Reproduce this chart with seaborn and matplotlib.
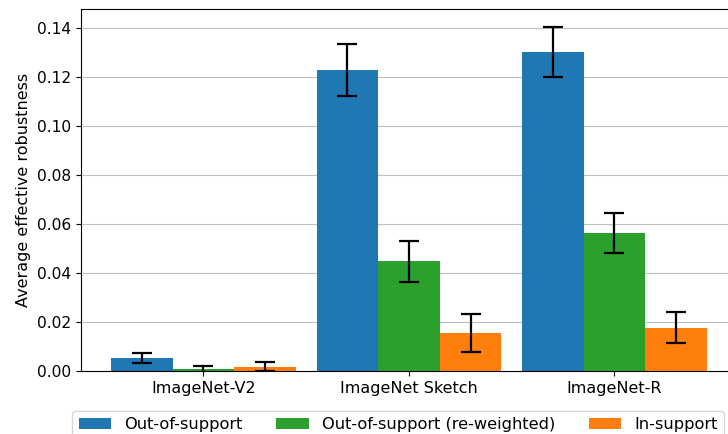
import numpy as np
import pandas as pd
import matplotlib
matplotlib.use('Agg')
import matplotlib.pyplot as plt
import seaborn as sns

# data
datasets = ['ImageNet-V2', 'ImageNet Sketch', 'ImageNet-R']
groups = ['Out-of-support', 'Out-of-support (re-weighted)', 'In-support']
out_support = [0.0053, 0.1229, 0.1303]
out_support_rw = [0.0009, 0.0447, 0.0565]
in_support = [0.0017, 0.0156, 0.0177]
# error bar half-widths
out_support_err = [0.0019, 0.0107, 0.0102]
out_support_rw_err = [0.0013, 0.0083, 0.0082]
in_support_err = [0.0018, 0.0077, 0.0062]

colors = ['#1f77b4', '#2ca02c', '#ff7f0e']

df = pd.DataFrame({
    'dataset': datasets * 3,
    'group': [g for g in groups for _ in datasets],
    'value': out_support + out_support_rw + in_support,
})
errs = [out_support_err, out_support_rw_err, in_support_err]

fig = plt.figure(figsize=(7.28, 4.34), dpi=100)
ax = fig.add_axes([0.1113, 0.1452, 0.9004, 0.833])

sns.barplot(data=df, x='dataset', y='value', hue='group', order=datasets,
            hue_order=groups, palette=colors, saturation=1, width=0.9,
            errorbar=None, ax=ax)

# error bars on each bar
for cont, e in zip(ax.containers, errs):
    xs = [p.get_x() + p.get_width() / 2 for p in cont.patches]
    ys = [p.get_height() for p in cont.patches]
    ax.errorbar(xs, ys, yerr=e, fmt='none', ecolor='black', elinewidth=1.6,
                capsize=7.5, capthick=1.6, zorder=3)

ax.set_xlim(-0.596, 2.594)
ax.set_ylim(0, 0.1476)
ax.set_yticks(np.arange(0, 0.141, 0.02))
ax.yaxis.grid(True, color='#c0c0c0', linewidth=0.8)
ax.set_axisbelow(True)
ax.set_xlabel('')
ax.set_ylabel('Average effective robustness', fontsize=11.5)
ax.tick_params(axis='x', labelsize=11.5)
ax.tick_params(axis='y', labelsize=11.2)

ax.legend(loc='upper left', bbox_to_anchor=(-0.0137, -0.11), ncol=3,
          borderaxespad=0, fontsize=11.7, columnspacing=2.08)

fig.savefig('out.png', dpi=100)
